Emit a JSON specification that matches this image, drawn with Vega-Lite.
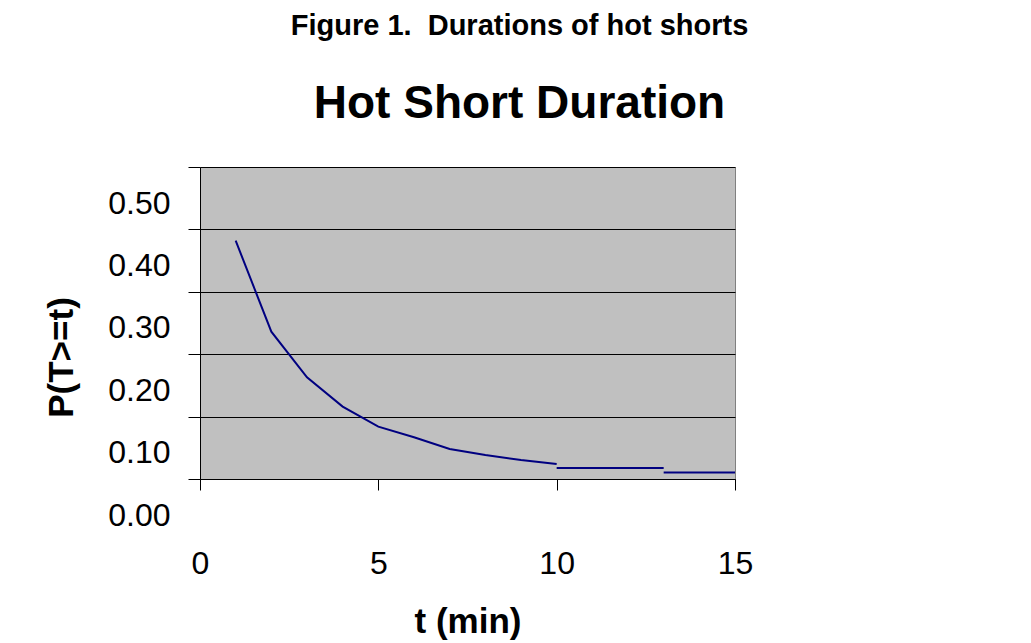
{
  "$schema": "https://vega.github.io/schema/vega-lite/v6.json",
  "width": 535,
  "height": 312,
  "autosize": {"type": "none"},
  "padding": {"left": 200, "top": 167, "right": 296, "bottom": 164},
  "background": "white",
  "config": {
    "font": "Liberation Sans",
    "view": {"fill": "#C0C0C0", "stroke": "#808080", "strokeWidth": 1}
  },
  "title": {
    "text": "Figure 1.\u00a0 Durations of hot shorts",
    "subtitle": "Hot Short Duration",
    "anchor": "middle",
    "frame": "group",
    "dx": 52,
    "font": "Liberation Sans",
    "fontSize": 29,
    "fontWeight": "bold",
    "color": "#000000",
    "subtitleFont": "Liberation Sans",
    "subtitleFontSize": 46,
    "subtitleFontWeight": "bold",
    "subtitleColor": "#000000",
    "subtitlePadding": 41,
    "offset": 40
  },
  "data": {
    "values": [
      {"t": 1, "p": 0.382, "seg": "a"},
      {"t": 2, "p": 0.236, "seg": "a"},
      {"t": 3, "p": 0.163, "seg": "a"},
      {"t": 4, "p": 0.116, "seg": "a"},
      {"t": 5, "p": 0.084, "seg": "a"},
      {"t": 6, "p": 0.067, "seg": "a"},
      {"t": 7, "p": 0.048, "seg": "a"},
      {"t": 8, "p": 0.0385, "seg": "a"},
      {"t": 9, "p": 0.0305, "seg": "a"},
      {"t": 10, "p": 0.024, "seg": "a"},
      {"t": 10, "p": 0.0177, "seg": "b"},
      {"t": 13, "p": 0.0177, "seg": "b"},
      {"t": 13, "p": 0.0106, "seg": "c"},
      {"t": 15, "p": 0.0106, "seg": "c"}
    ]
  },
  "mark": {"type": "line", "color": "#000080", "strokeWidth": 2},
  "encoding": {
    "x": {
      "field": "t",
      "type": "quantitative",
      "scale": {"domain": [0, 15], "nice": false, "zero": false},
      "axis": {
        "title": "t (min)",
        "values": [0, 5, 10, 15],
        "format": "d",
        "grid": false,
        "labelFlush": false,
        "domainColor": "#000000",
        "domainWidth": 1,
        "tickColor": "#000000",
        "tickSize": 11,
        "tickWidth": 1,
        "labelFontSize": 32,
        "labelColor": "#000000",
        "labelPadding": 58,
        "labelBaseline": "top",
        "titleFontSize": 35,
        "titleFontWeight": "bold",
        "titleColor": "#000000",
        "titleX": 267.5,
        "titleY": 153,
        "titleBaseline": "alphabetic",
        "titleAlign": "center"
      }
    },
    "y": {
      "field": "p",
      "type": "quantitative",
      "scale": {"domain": [0, 0.5], "nice": false},
      "axis": {
        "title": "P(T>=t)",
        "values": [0, 0.1, 0.2, 0.3, 0.4, 0.5],
        "format": ".2f",
        "grid": true,
        "gridColor": "#000000",
        "gridWidth": 1,
        "gridOpacity": 1,
        "domainColor": "#000000",
        "tickColor": "#000000",
        "tickSize": 12,
        "labelFontSize": 32,
        "labelColor": "#000000",
        "labelPadding": 18,
        "labelOffset": 36,
        "labelBaseline": "middle",
        "titleFontSize": 35,
        "titleFontWeight": "bold",
        "titleColor": "#000000",
        "titleX": -128,
        "titleY": 190,
        "titleBaseline": "alphabetic",
        "titleAngle": -90,
        "titleAlign": "center"
      }
    },
    "detail": {"field": "seg"}
  }
}
